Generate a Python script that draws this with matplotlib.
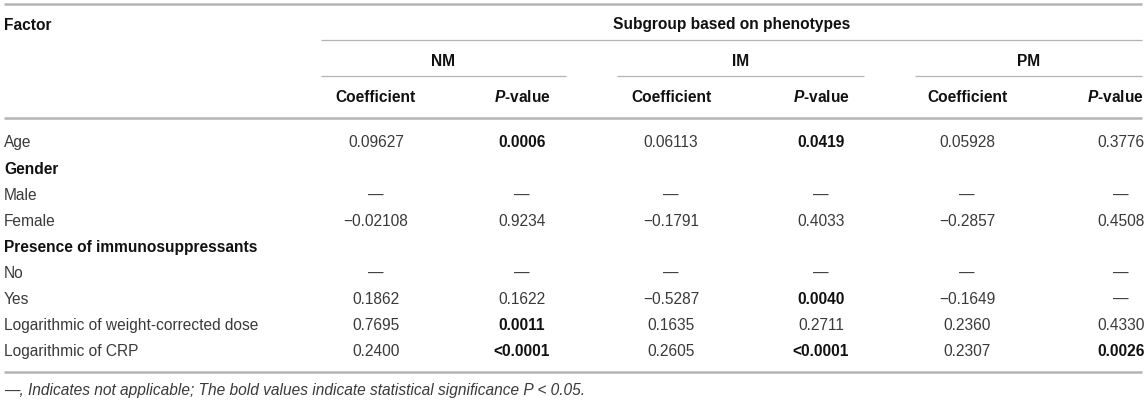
import matplotlib
matplotlib.use("Agg")
import matplotlib.pyplot as plt

plt.rcParams['font.family'] = ['Liberation Sans', 'DejaVu Sans']
plt.rcParams['mathtext.fontset'] = 'custom'
plt.rcParams['mathtext.rm'] = 'Liberation Sans'
plt.rcParams['mathtext.it'] = 'Liberation Sans:italic'
plt.rcParams['mathtext.bf'] = 'Liberation Sans:bold'
plt.rcParams['mathtext.bfit'] = 'Liberation Sans:bold:italic'

# table content
factors = ["Age", "Gender", "Male", "Female", "Presence of immunosuppressants",
           "No", "Yes", "Logarithmic of weight-corrected dose", "Logarithmic of CRP"]
factor_bold = [False, True, False, False, True, False, False, False, False]

groups = ["NM", "IM", "PM"]
sub_headers = ["Coefficient", r"$\bfit{P}$-value"]

nm_coef = ["0.09627", "", "\u2014", "\u22120.02108", "", "\u2014", "0.1862", "0.7695", "0.2400"]
nm_p = ["0.0006", "", "\u2014", "0.9234", "", "\u2014", "0.1622", "0.0011", "<0.0001"]
im_coef = ["0.06113", "", "\u2014", "\u22120.1791", "", "\u2014", "\u22120.5287", "0.1635", "0.2605"]
im_p = ["0.0419", "", "\u2014", "0.4033", "", "\u2014", "0.0040", "0.2711", "<0.0001"]
pm_coef = ["0.05928", "", "\u2014", "\u22120.2857", "", "\u2014", "\u22120.1649", "0.2360", "0.2307"]
pm_p = ["0.3776", "", "\u2014", "0.4508", "", "\u2014", "\u2014", "0.4330", "0.0026"]

# which p-values are bold (significant)
nm_p_bold = [True, False, False, False, False, False, False, True, True]
im_p_bold = [True, False, False, False, False, False, True, False, True]
pm_p_bold = [False, False, False, False, False, False, False, False, True]

footnote = "\u2014, Indicates not applicable; The bold values indicate statistical significance P < 0.05."

# layout in pixels
W, H = 1146, 402
fs = 11.16
txt_col = "#3a3a3a"
bold_col = "#111111"
line_col = "#b4b4b4"

left, right = 4, 1142
group_spans = [(321, 566), (617, 864), (915, 1142)]
col_x = [376, 522, 671, 821, 967, 1121]
head_x = [376, 522, 671, 821, 967, 1115]
row_y0, row_dy = 142, 26.1


def put(ax, x, yc, s, bold=False, italic=False, ha="center"):
    ax.text(x, yc + 5.5, s, ha=ha, va="baseline", fontsize=fs,
            fontweight="bold" if bold else "normal",
            fontstyle="italic" if italic else "normal",
            color=bold_col if bold else txt_col)


def hline(ax, x0, x1, y, lw):
    ax.plot([x0, x1], [y, y], color=line_col, lw=lw, solid_capstyle="butt")


fig = plt.figure(figsize=(W / 100, H / 100), dpi=100)
ax = fig.add_axes([0, 0, 1, 1])
ax.set_xlim(0, W)
ax.set_ylim(H, 0)
ax.axis("off")

# rules
hline(ax, left, right, 4.5, 1.8)
hline(ax, group_spans[0][0], right, 41, 0.9)
for x0, x1 in group_spans:
    hline(ax, x0, x1, 77, 0.9)
hline(ax, left, right, 119, 1.8)
hline(ax, left, right, 373, 1.8)

# header
put(ax, left, 24, "Factor", bold=True, ha="left")
put(ax, (group_spans[0][0] + right) / 2, 24, "Subgroup based on phenotypes", bold=True)
for g, (x0, x1) in zip(groups, group_spans):
    put(ax, (x0 + x1) / 2, 60, g, bold=True)
for c in range(6):
    put(ax, head_x[c], 97, sub_headers[c % 2], bold=True)

# body
columns = [nm_coef, nm_p, im_coef, im_p, pm_coef, pm_p]
bolds = [None, nm_p_bold, None, im_p_bold, None, pm_p_bold]
for r, name in enumerate(factors):
    yc = row_y0 + r * row_dy
    put(ax, left, yc, name, bold=factor_bold[r], ha="left")
    for c, vals in enumerate(columns):
        b = bolds[c][r] if bolds[c] is not None else False
        put(ax, col_x[c], yc, vals[r], bold=b)

put(ax, left, 390, footnote, italic=True, ha="left")

fig.savefig("out.png", dpi=100)
